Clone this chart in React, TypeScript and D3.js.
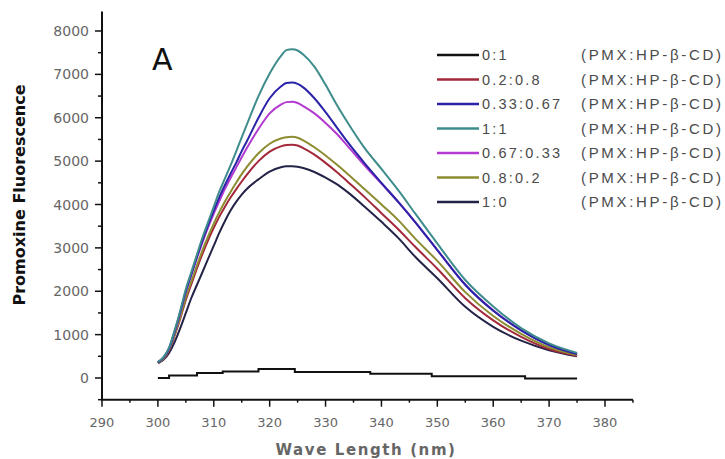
import React from "react";
import * as d3 from "d3";

const wavelengths = [300, 301, 302, 303, 304, 305, 306, 307, 308, 309, 310, 311, 312, 313, 314, 315, 316, 318, 320, 322, 323, 324, 325, 326, 328, 330, 332, 334, 337, 340, 343, 346, 350, 355, 360, 365, 370, 375];

const s11 = [370, 480, 700, 1100, 1550, 2050, 2450, 2850, 3250, 3600, 3950, 4300, 4600, 4900, 5220, 5550, 5870, 6500, 7020, 7420, 7560, 7580, 7550, 7460, 7180, 6760, 6300, 5880, 5300, 4820, 4330, 3800, 3100, 2260, 1650, 1150, 800, 580];
const s033 = [360, 470, 680, 1070, 1520, 2000, 2400, 2800, 3180, 3530, 3860, 4170, 4450, 4710, 4960, 5230, 5480, 6000, 6450, 6720, 6800, 6810, 6780, 6700, 6450, 6130, 5780, 5430, 4950, 4500, 4060, 3600, 2950, 2150, 1550, 1100, 760, 550];
const s067 = [360, 470, 680, 1060, 1500, 1980, 2380, 2770, 3140, 3480, 3790, 4080, 4360, 4610, 4850, 5090, 5320, 5740, 6100, 6300, 6360, 6370, 6340, 6270, 6100, 5880, 5630, 5340, 4900, 4480, 4060, 3600, 2950, 2150, 1560, 1100, 770, 560];
const s08 = [350, 450, 650, 1000, 1400, 1850, 2230, 2600, 2950, 3270, 3560, 3830, 4070, 4290, 4500, 4700, 4880, 5180, 5400, 5520, 5550, 5560, 5540, 5480, 5320, 5130, 4920, 4700, 4350, 4000, 3640, 3220, 2700, 1980, 1430, 1020, 710, 530];
const s02 = [350, 440, 640, 980, 1370, 1800, 2170, 2530, 2870, 3180, 3460, 3720, 3950, 4160, 4350, 4530, 4700, 5000, 5220, 5340, 5370, 5380, 5360, 5300, 5150, 4960, 4750, 4520, 4170, 3800, 3430, 3030, 2520, 1840, 1330, 950, 670, 510];
const s10 = [340, 420, 580, 830, 1150, 1500, 1850, 2150, 2450, 2750, 3050, 3350, 3620, 3860, 4060, 4230, 4370, 4580, 4760, 4860, 4880, 4880, 4870, 4840, 4750, 4620, 4470, 4280, 3950, 3600, 3230, 2800, 2300, 1640, 1180, 860, 640, 500];

// Baseline (0:1) stepped readings
const baseX = [300, 302, 307, 311.6, 318, 324.5, 338, 349, 365.7, 375];
const baseY = [0, 60, 115, 150, 210, 140, 100, 40, -10, -10];

const legendLabels = ["0:1", "0.2:0.8", "0.33:0.67", "1:1", "0.67:0.33", "0.8:0.2", "1:0"];
const legendColors = ["#111111", "#a3283a", "#2a23a8", "#3f8c8c", "#b23ad0", "#8c8c30", "#232348"];

const xTicks = [290, 300, 310, 320, 330, 340, 350, 360, 370, 380];
const yTicks = [0, 1000, 2000, 3000, 4000, 5000, 6000, 7000, 8000];

export default function App() {
  const x = d3.scaleLinear().domain([290, 380]).range([102, 605]);
  const y = d3.scaleLinear().domain([0, 8000]).range([378, 31]);
  const xEnd = x(385);
  const yTop = y(8450);
  const yBot = y(-500);

  const line = d3
    .line<number>()
    .x((_, i) => x(wavelengths[i]))
    .y((d) => y(d))
    .curve(d3.curveMonotoneX);

  const baseLine = d3
    .line<number>()
    .x((_, i) => x(baseX[i]))
    .y((d) => y(d))
    .curve(d3.curveStepAfter);

  const series = [
    { v: s10, c: legendColors[6] },
    { v: s02, c: legendColors[1] },
    { v: s08, c: legendColors[5] },
    { v: s067, c: legendColors[4] },
    { v: s033, c: legendColors[2] },
    { v: s11, c: legendColors[3] },
  ];

  const xMinor = d3.range(290, 386, 5);
  const yMinor = d3.range(-500, 8500, 500);

  return (
    <svg width={725} height={459} style={{ position: "absolute", left: 0, top: 0, background: "#fff" }} fontFamily="DejaVu Sans, sans-serif">
      {/* baseline */}
      <path d={baseLine(baseY) || ""} fill="none" stroke="#111" strokeWidth={2} />
      {series.map((s, i) => (
        <path key={i} d={line(s.v) || ""} fill="none" stroke={s.c} strokeWidth={2} />
      ))}

      {/* axes */}
      <line x1={102} x2={102} y1={yTop} y2={yBot} stroke="#111" strokeWidth={2} />
      <line x1={101} x2={xEnd} y1={yBot} y2={yBot} stroke="#111" strokeWidth={2} />
      {yMinor.map((t) => (
        <line key={"ym" + t} x1={t % 1000 === 0 ? 95 : 98} x2={102} y1={y(t)} y2={y(t)} stroke="#111" strokeWidth={1.5} />
      ))}
      {xMinor.map((t) => (
        <line key={"xm" + t} x1={x(t)} x2={x(t)} y1={yBot} y2={yBot + (t % 10 === 0 ? 7 : 3)} stroke="#111" strokeWidth={1.5} />
      ))}
      {yTicks.map((t) => (
        <text key={"yt" + t} x={89} y={y(t)} dy="0.36em" textAnchor="end" fontSize={14} fill="#666">
          {t}
        </text>
      ))}
      {xTicks.map((t) => (
        <text key={"xt" + t} x={x(t)} y={422} dy="0.36em" textAnchor="middle" fontSize={13} fill="#666">
          {t}
        </text>
      ))}

      <text x={366} y={455} textAnchor="middle" fontSize={15} fontWeight="bold" fill="#666" letterSpacing={1.6}>
        Wave Length (nm)
      </text>
      <text transform="translate(25,195) rotate(-90)" textAnchor="middle" fontSize={16} fontWeight="bold" fill="#111">
        Promoxine Fluorescence
      </text>

      <text x={152} y={70} fontSize={30} fill="#111">
        A
      </text>

      {legendLabels.map((lab, i) => {
        const ly = 55 + i * 24.5;
        return (
          <g key={lab}>
            <line x1={437} x2={479} y1={ly} y2={ly} stroke={legendColors[i]} strokeWidth={2.5} />
            <text x={482} y={ly} dy="0.36em" fontSize={14.5} fontFamily="Liberation Sans, Arial, sans-serif" fill="#4a4a4a" letterSpacing={2.2}>
              {lab}
            </text>
            <text x={581} y={ly} dy="0.36em" fontSize={15} fontFamily="Liberation Sans, Arial, sans-serif" fill="#4a4a4a" textLength={140} lengthAdjust="spacing">
              (PMX:HP-β-CD)
            </text>
          </g>
        );
      })}
    </svg>
  );
}
